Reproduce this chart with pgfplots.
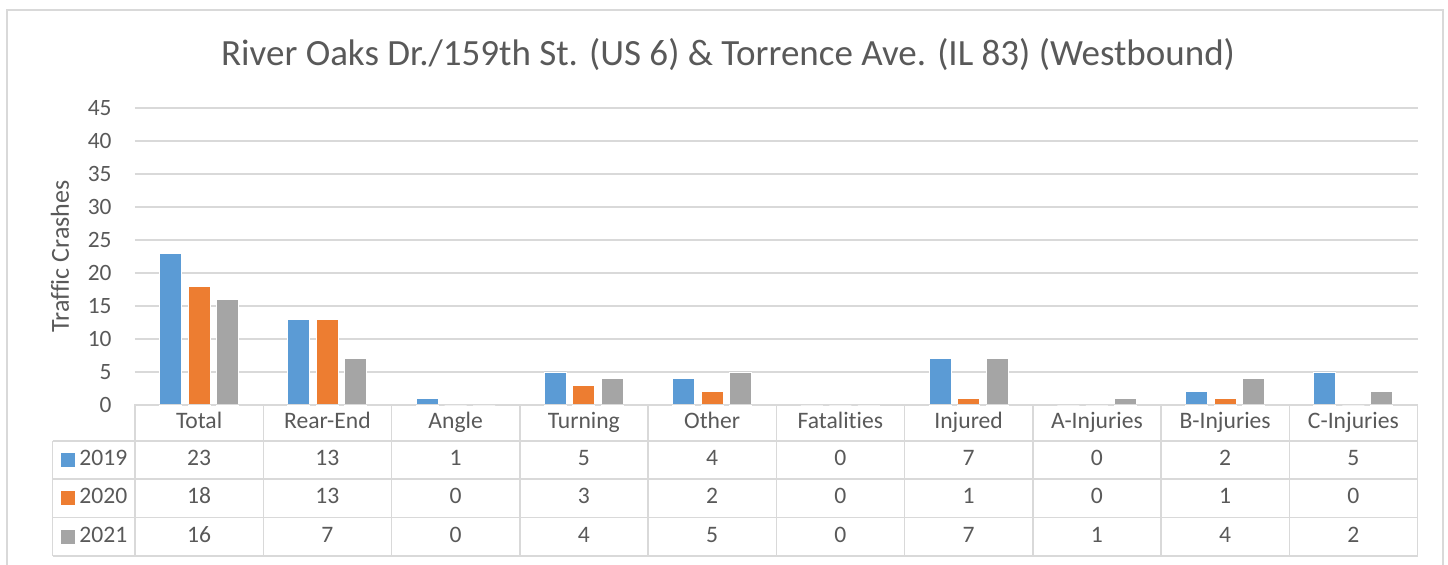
\documentclass[border=0pt]{standalone}
\usepackage{pgfplots}
\pgfplotsset{compat=1.18}
\usepackage{pgfplotstable}
\usepackage{fontspec}
\setmainfont{Carlito}[Ligatures={NoCommon}]
\definecolor{c19}{HTML}{5B9BD5}
\definecolor{c20}{HTML}{ED7D31}
\definecolor{c21}{HTML}{A5A5A5}
\definecolor{txt}{HTML}{595959}
\definecolor{gridc}{HTML}{D9D9D9}

\pgfplotstableread{
x a b c
0 23 18 16
1 13 13 7
2 1 0 0
3 5 3 4
4 4 2 5
5 0 0 0
6 7 1 7
7 0 0 1
8 2 1 4
9 5 0 2
}\data

\begin{document}
\begin{tikzpicture}
\useasboundingbox (0pt,0pt) rectangle (724pt,-282.5pt);
\begin{axis}[
 at={(67.5pt,-202.5pt)}, anchor=south west,
 scale only axis, width=641.25pt, height=148.5pt,
 xmin=-0.5, xmax=9.5, ymin=0, ymax=45,
 ytick={0,5,...,45}, xtick=\empty,
 ymajorgrids, grid style={gridc, line width=0.75pt},
 axis line style={draw=none}, major tick length=0pt,
 ybar=3.25pt, bar width=11pt,
 /pgf/number format/assume math mode=true,
 yticklabel style={font=\fontsize{11.7}{13}\selectfont, text=txt, inner sep=0pt, anchor=east, xshift=-11.5pt},
 ylabel={Traffic Crashes},
 ylabel style={at={(rel axis cs:-0.0585,0.5)}, anchor=center, font=\fontsize{13}{15}\selectfont, text=txt},
 title={River Oaks Dr./159th St. (US 6) \& Torrence Ave. (IL 83) (Westbound)},
 title style={at={(rel axis cs:0.5,1)}, anchor=base, yshift=15.5pt, xshift=-24.1pt, font=\fontsize{18.5}{22}\selectfont, text=txt},
 clip=false,
]
\addplot[fill=c19, draw=white, line width=0.4pt] table[x=x, y=a] {\data};
\addplot[fill=c20, draw=white, line width=0.4pt] table[x=x, y=b] {\data};
\addplot[fill=c21, draw=white, line width=0.4pt] table[x=x, y=c] {\data};
\end{axis}
\begin{scope}[x=0.5pt, y=-0.5pt, every node/.style={font=\fontsize{11.8}{13}\selectfont, text=txt, text height=1.6ex, text depth=0.35ex, inner sep=0pt}]
\draw[gridc, line width=0.75pt] (7,565) -- (7,10) -- (1443,10) -- (1443,565);
\draw[gridc, line width=0.75pt] (135,404.5) -- (1417.5,404.5);
\foreach \y in {441,479,517.5,556} \draw[gridc, line width=0.75pt] (52.5,\y) -- (1417.5,\y);
\draw[gridc, line width=0.75pt] (52.5,441) -- (52.5,556);
\foreach \k in {0,...,10} \draw[gridc, line width=0.75pt] (135+\k*128.25,404.5) -- (135+\k*128.25,556);
\foreach \c [count=\i from 0] in {Total,Rear-End,Angle,Turning,Other,Fatalities,Injured,A-Injuries,B-Injuries,C-Injuries}
  \node at (199.125+\i*128.25,422.5) {\c};
\foreach \col/\yy/\cc/\lab in {a/460/c19/2019, b/498/c20/2020, c/537/c21/2021} {
  \fill[\cc] (61,\yy-7) rectangle (75,\yy+7);
  \node[anchor=west] at (79,\yy) {\lab};
  \foreach \r in {0,...,9} {
    \pgfplotstablegetelem{\r}{\col}\of\data
    \node at (199.125+\r*128.25,\yy) {\pgfplotsretval};
  }
}
\end{scope}
\end{tikzpicture}
\end{document}
